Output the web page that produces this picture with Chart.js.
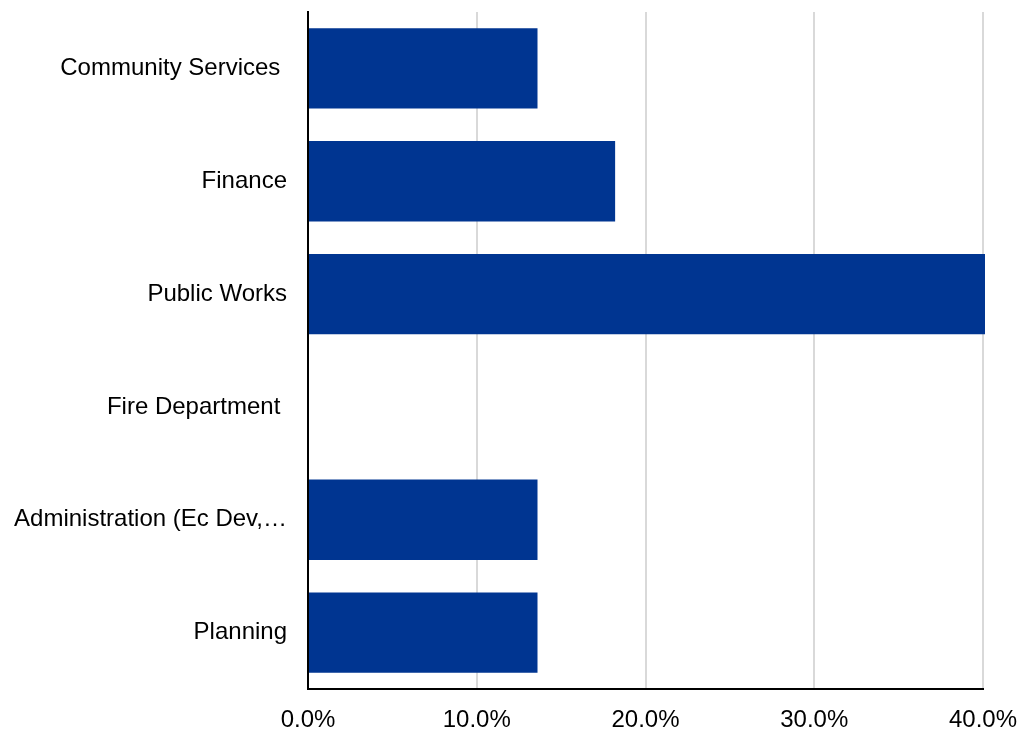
<!DOCTYPE html>
<html>
<head>
<meta charset="utf-8">
<script src="https://cdn.jsdelivr.net/npm/chart.js@4/dist/chart.umd.min.js"></script>
<style>
  html, body { margin: 0; padding: 0; background: #fff; }
  #wrap { width: 1019px; height: 731px; position: relative; }
</style>
</head>
<body>
<div id="wrap"><canvas id="c"></canvas></div>
<script>
const categories = ["Community Services ", "Finance", "Public Works", "Fire Department ", "Administration (Ec Dev,…", "Planning"];
const shareValues = [13.6, 18.2, 40.9, 0, 13.6, 13.6];
const tickValues = [0, 10, 20, 30, 40];

Chart.defaults.font.family = "'Liberation Sans', Arial, sans-serif";
Chart.defaults.color = "#000";

new Chart(document.getElementById('c'), {
  type: 'bar',
  data: {
    labels: categories,
    datasets: [{
      data: shareValues,
      backgroundColor: '#003591',
      borderWidth: 0,
      barPercentage: 0.712,
      categoryPercentage: 1,
      clip: {left: 0, top: 0, bottom: 0, right: 2}
    }]
  },
  options: {
    indexAxis: 'y',
    responsive: true,
    maintainAspectRatio: false,
    animation: false,
    layout: { padding: { left: 0, right: 36, top: 12, bottom: 0 } },
    plugins: { legend: { display: false }, tooltip: { enabled: false } },
    scales: {
      x: {
        min: 0,
        max: 40,
        afterBuildTicks: (scale) => { scale.ticks = tickValues.map(v => ({ value: v })); },
        afterFit: (scale) => { scale.height = 42; scale.paddingLeft = 0; scale.paddingRight = 0; },
        ticks: {
          font: { size: 24 },
          padding: 17,
          maxRotation: 0,
          callback: (v) => Number(v).toFixed(1) + '%'
        },
        grid: {
          color: (ctx) => ctx.tick && ctx.tick.value === 0 ? 'rgba(0,0,0,0)' : '#d9d9d9',
          lineWidth: 2,
          drawTicks: false
        },
        border: { display: true, color: '#000', width: 2 }
      },
      y: {
        afterFit: (scale) => { scale.width = 308; scale.paddingTop = 0; scale.paddingBottom = 0; },
        ticks: { font: { size: 24 }, padding: 21 },
        grid: { display: false, drawTicks: false },
        border: { display: true, color: '#000', width: 2 }
      }
    }
  }
});
</script>
</body>
</html>
